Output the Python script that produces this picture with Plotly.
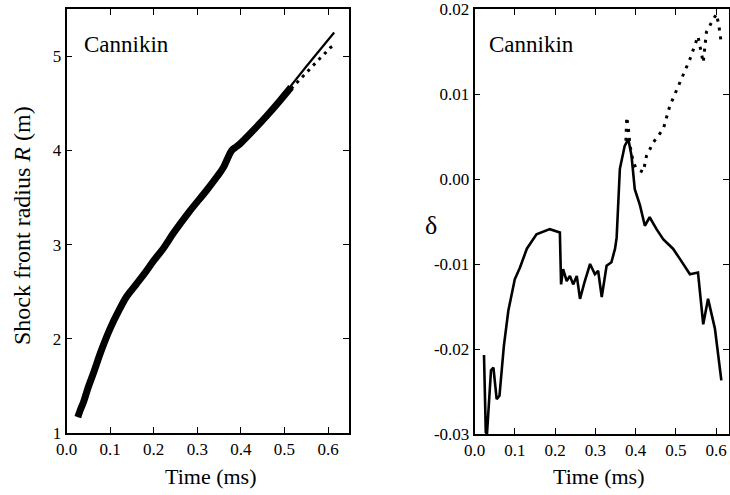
import plotly.graph_objects as go

# ---------------- data ----------------
# Left panel: shock front radius R (m) vs time (ms)
t_meas = [0.026, 0.032, 0.039, 0.05, 0.062, 0.08, 0.1, 0.12, 0.138, 0.16, 0.18, 0.2, 0.222,
          0.245, 0.28, 0.322, 0.345, 0.36, 0.37, 0.379, 0.39, 0.398, 0.43, 0.46, 0.49, 0.515]
R_meas = [1.17, 1.25, 1.33, 1.49, 1.64, 1.88, 2.11, 2.30, 2.45, 2.58, 2.70, 2.83, 2.96,
          3.12, 3.34, 3.58, 3.72, 3.82, 3.92, 4.00, 4.04, 4.07, 4.22, 4.37, 4.53, 4.67]
t_fit = [0.026, 0.05, 0.1, 0.15, 0.2, 0.25, 0.3, 0.35, 0.375, 0.4, 0.45, 0.5, 0.55, 0.58, 0.614]
R_fit = [1.17, 1.49, 2.11, 2.52, 2.83, 3.16, 3.46, 3.76, 3.96, 4.07, 4.34, 4.60, 4.89, 5.06, 5.25]
t_late = [0.49, 0.51, 0.53, 0.55, 0.565, 0.58, 0.595, 0.605, 0.615]
R_late = [4.53, 4.63, 4.73, 4.83, 4.90, 4.97, 5.04, 5.09, 5.12]

# Right panel: delta vs time (ms)
t_delta = [0.0236, 0.028, 0.031, 0.036, 0.041, 0.047, 0.055, 0.062, 0.073, 0.084, 0.1, 0.113,
           0.13, 0.154, 0.187, 0.212, 0.215, 0.22, 0.229, 0.237, 0.245, 0.254, 0.262, 0.274,
           0.287, 0.299, 0.307, 0.316, 0.328, 0.34, 0.349, 0.353, 0.361, 0.373, 0.382, 0.39,
           0.398, 0.411, 0.423, 0.435, 0.452, 0.469, 0.485, 0.493, 0.51, 0.535, 0.555, 0.568,
           0.58, 0.597, 0.613]
delta_solid = [-0.0207, -0.0298, -0.0300, -0.0262, -0.0225, -0.0222, -0.0259, -0.0255, -0.0196,
               -0.0155, -0.0118, -0.0104, -0.0082, -0.0065, -0.0059, -0.0063, -0.0124, -0.0106,
               -0.0120, -0.0114, -0.0124, -0.0114, -0.0141, -0.0120, -0.0100, -0.0112, -0.0108,
               -0.0139, -0.0102, -0.0098, -0.0082, -0.0069, 0.0012, 0.0039, 0.0047, 0.0027,
               -0.0012, -0.0031, -0.0055, -0.0045, -0.0059, -0.0071, -0.0078, -0.0082, -0.0094,
               -0.0112, -0.0110, -0.0171, -0.0141, -0.0176, -0.0237]
t_dot = [0.376, 0.378, 0.382, 0.386, 0.394, 0.402, 0.419, 0.427, 0.444, 0.469, 0.485, 0.51,
         0.535, 0.555, 0.562, 0.568, 0.576, 0.585, 0.593, 0.601, 0.607, 0.613]
delta_dot = [0.0045, 0.0073, 0.0060, 0.0040, 0.0020, 0.0012, 0.0008, 0.0027, 0.0043, 0.0059,
             0.0086, 0.0114, 0.0141, 0.0168, 0.0150, 0.0137, 0.0173, 0.0182, 0.0188, 0.0194,
             0.0180, 0.0159]

x_tickvals = [0.0, 0.1, 0.2, 0.3, 0.4, 0.5, 0.6]
x_ticktext = ["0.0", "0.1", "0.2", "0.3", "0.4", "0.5", "0.6"]
R_tickvals = [1, 2, 3, 4, 5]
R_ticktext = ["1", "2", "3", "4", "5"]
d_tickvals = [-0.03, -0.02, -0.01, 0.0, 0.01, 0.02]
d_ticktext = ["-0.03", "-0.02", "-0.01", "0.00", "0.01", "0.02"]

# ---------------- layout helpers ----------------
W, H = 730, 495
FONT = "Liberation Serif"


def px(x):
    return x / W


def py(y):
    return 1 - y / H


fig = go.Figure()

# left panel
fig.add_trace(go.Scatter(x=t_fit, y=R_fit, mode="lines", line=dict(color="black", width=2.2),
                         xaxis="x", yaxis="y", showlegend=False))
fig.add_trace(go.Scatter(x=t_meas, y=R_meas, mode="lines",
                         line=dict(color="black", width=7, shape="spline"),
                         xaxis="x", yaxis="y", showlegend=False))
fig.add_trace(go.Scatter(x=t_late, y=R_late, mode="lines",
                         line=dict(color="black", width=3, dash="3px,5px"),
                         xaxis="x", yaxis="y", showlegend=False))

# right panel
fig.add_trace(go.Scatter(x=t_delta, y=delta_solid, mode="lines",
                         line=dict(color="black", width=2.6),
                         xaxis="x2", yaxis="y2", showlegend=False))
fig.add_trace(go.Scatter(x=t_dot, y=delta_dot, mode="lines",
                         line=dict(color="black", width=3, dash="3px,6px"),
                         xaxis="x2", yaxis="y2", showlegend=False))

axis_common = dict(showline=True, linecolor="black", linewidth=1.6, mirror="ticks",
                   ticks="inside", ticklen=6, tickwidth=1.4, tickcolor="black",
                   showgrid=False, zeroline=False, automargin=False,
                   ticklabeloverflow="allow",
                   tickfont=dict(family=FONT, size=17, color="black"))

fig.update_layout(
    width=W, height=H,
    margin=dict(l=0, r=0, t=0, b=0),
    paper_bgcolor="white", plot_bgcolor="white",
    font=dict(family=FONT, color="black"),
    xaxis=dict(domain=[px(66.5), px(349)], range=[0, 0.648], tickmode="array",
               tickvals=x_tickvals, ticktext=x_ticktext, anchor="y", **axis_common),
    yaxis=dict(domain=[py(433.2), py(9)], range=[1, 5.5], tickmode="array",
               tickvals=R_tickvals, ticktext=R_ticktext, anchor="x", **axis_common),
    xaxis2=dict(domain=[px(474.5), px(729)], range=[0, 0.632], tickmode="array",
                tickvals=x_tickvals, ticktext=x_ticktext, anchor="y2", **axis_common),
    yaxis2=dict(domain=[py(434), py(9)], range=[-0.03, 0.02], tickmode="array",
                tickvals=d_tickvals, ticktext=d_ticktext, anchor="x2", **axis_common),
)

ann_font = dict(family=FONT, color="black")
annotations = [
    dict(text="Cannikin", x=px(82), y=py(44), xanchor="left", yanchor="middle",
         font=dict(size=23, **ann_font)),
    dict(text="Cannikin", x=px(487), y=py(44), xanchor="left", yanchor="middle",
         font=dict(size=23, **ann_font)),
    dict(text="Time (ms)", x=px(210), y=py(476), xanchor="center", yanchor="middle",
         font=dict(size=22, **ann_font)),
    dict(text="Time (ms)", x=px(598), y=py(476), xanchor="center", yanchor="middle",
         font=dict(size=22, **ann_font)),
    dict(text="Shock front radius <i>R</i> (m)", x=px(22), y=py(226), textangle=-90,
         xanchor="center", yanchor="middle", font=dict(size=24, **ann_font)),
    dict(text="δ", x=px(431), y=py(225), xanchor="center", yanchor="middle",
         font=dict(size=26, **ann_font)),
]
for a in annotations:
    a.update(xref="paper", yref="paper", showarrow=False)
fig.update_layout(annotations=annotations)

fig.write_html("out.html")
